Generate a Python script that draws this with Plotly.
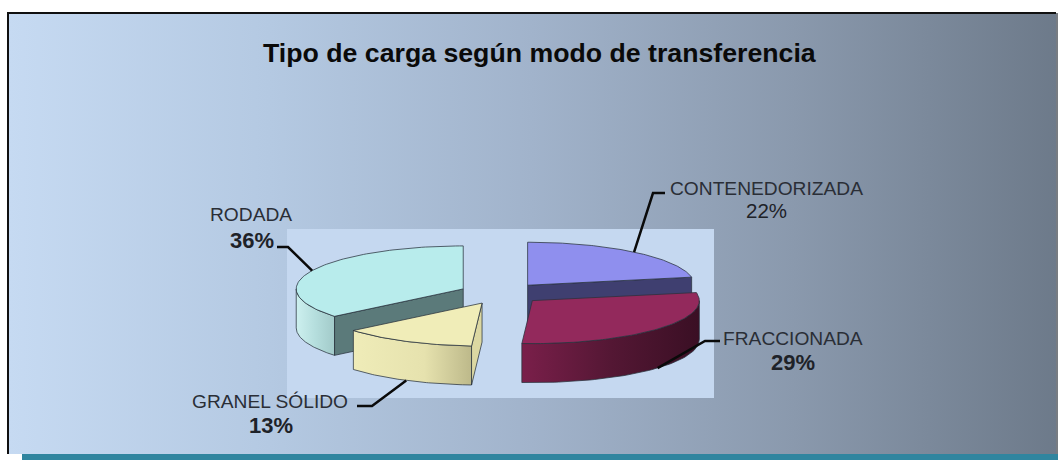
import numpy as np
import plotly.graph_objects as go

# --- data ---
categories = ["CONTENEDORIZADA", "FRACCIONADA", "GRANEL SÓLIDO", "RODADA"]
values = [22, 29, 13, 36]
title_text = "Tipo de carga según modo de transferencia"

# --- style ---
top_colors = ["#8f8fee", "#93295c", "#f0edb8", "#b8ecec"]
wall_colors = ["#3f3f70", "#4a1530", "#dcd8a2", "#5b7a7a"]
side_scales = [
    [[0, "#3f3f70"], [1, "#3f3f70"]],
    [[0, "#7a1f4a"], [0.5, "#541734"], [1, "#3a0f24"]],
    [[0, "#efecb8"], [0.6, "#e6e2ae"], [1, "#bdb98a"]],
    [[0, "#cdf0ef"], [0.5, "#b5dedd"], [1, "#a2cac9"]],
]
CX, CY, RX, RY, DEPTH, EXPLODE = 501, 293.5, 167, 43, 39, 0.25
W, H = 1058, 460
EDGE = "rgba(40,50,60,0.75)"

fig = go.Figure()


def poly(xs, ys, fill=None, scale=None, line=None):
    kw = dict(fill="toself", mode="lines", hoverinfo="skip", showlegend=False,
              line=dict(color=line or "rgba(0,0,0,0)", width=1 if line else 0))
    if scale is not None:
        kw["fillgradient"] = dict(type="horizontal", colorscale=scale)
    else:
        kw["fillcolor"] = fill
    fig.add_trace(go.Scatter(x=list(xs), y=list(ys), **kw))


# panel
poly([8, 1056, 1056, 8, 8], [13, 13, 454, 454, 13],
     scale=[[0, "#c6daf2"], [0.25, "#b4c9e2"], [0.5, "#a1b3cb"],
            [0.75, "#8a99ad"], [1, "#6d7a8a"]])
fig.add_trace(go.Scatter(x=[8, 8, 1056], y=[454, 13, 13], mode="lines", hoverinfo="skip",
                         showlegend=False, line=dict(color="#101010", width=2)))
fig.add_trace(go.Scatter(x=[1057, 1057], y=[13, 454], mode="lines", hoverinfo="skip",
                         showlegend=False, line=dict(color="#4a5058", width=1.5)))
poly([22, W, W, 22, 22], [454, 454, H, H, 454], fill="#30859f")
# plot area
poly([287, 714, 714, 287, 287], [229, 229, 398, 398, 229], fill="#c5d8f0")

# slices
fractions = np.array(values) / sum(values) * 360
ends = np.cumsum(fractions)
starts = ends - fractions
mids = (starts + ends) / 2
centers = [(CX + EXPLODE * RX * np.sin(np.radians(m)),
            CY - EXPLODE * RY * np.cos(np.radians(m))) for m in mids]


def rim(c, t):
    t = np.radians(t)
    return c[0] + RX * np.sin(t), c[1] - RY * np.cos(t)


def draw(i):
    c, s, e = centers[i], starts[i], ends[i]
    # outer side
    a, b = max(s, 90), min(e, 270)
    if b > a:
        th = np.linspace(a, b, 60)
        x, y = rim(c, th)
        poly(np.r_[x, x[::-1], x[0]], np.r_[y, (y + DEPTH)[::-1], y[0]],
             scale=side_scales[i], line=EDGE)
    # cut walls that face the viewer
    for t, facing in ((e, e < 180), (s, 180 < s < 360)):
        if facing:
            x, y = rim(c, t)
            poly([c[0], x, x, c[0], c[0]], [c[1], y, y + DEPTH, c[1] + DEPTH, c[1]],
                 fill=wall_colors[i], line=EDGE)
    # top
    th = np.linspace(s, e, 100)
    x, y = rim(c, th)
    poly(np.r_[c[0], x, c[0]], np.r_[c[1], y, c[1]], fill=top_colors[i], line=EDGE)


for i in (0, 3, 1, 2):
    draw(i)

# leader lines: slice anchor -> elbow -> label end
elbows = [((653, 193), (665, 193)), ((705, 341), (720, 341)),
          ((372, 406), (357, 406)), ((288, 247), (277, 247))]
for i, (el, tail) in enumerate(elbows):
    ax, ay = rim(centers[i], mids[i])
    if 90 < mids[i] < 270:
        ay += DEPTH
    fig.add_trace(go.Scatter(x=[ax, el[0], tail[0]], y=[ay, el[1], tail[1]], mode="lines",
                             hoverinfo="skip", showlegend=False,
                             line=dict(color="#0a0a0a", width=2.5)))

# texts
FONT = "Liberation Sans, Arial, sans-serif"
pct = [f"{v}%" for v in values]
name_pos = [(766.5, 188), (793, 338), (270, 401), (251, 214)]
pct_pos = [(766.5, 210), (793, 362), (271, 425), (251.5, 240)]
pct_bold = [False, True, True, True]
ann = [dict(x=539.5, y=53, text=f"<b>{title_text}</b>", showarrow=False,
            font=dict(family=FONT, size=26.7, color="#0a0a0a"))]
for i, name in enumerate(categories):
    ann.append(dict(x=name_pos[i][0], y=name_pos[i][1], text=name, showarrow=False,
                    font=dict(family=FONT, size=19.2, color="#2a2e36")))
    t = f"<b>{pct[i]}</b>" if pct_bold[i] else pct[i]
    ann.append(dict(x=pct_pos[i][0], y=pct_pos[i][1], text=t, showarrow=False,
                    font=dict(family=FONT, size=22 if pct_bold[i] else 20.5, color="#1e2228")))

fig.update_layout(
    width=W, height=H, margin=dict(l=0, r=0, t=0, b=0),
    paper_bgcolor="white", plot_bgcolor="white", showlegend=False, annotations=ann,
    xaxis=dict(range=[0, W], visible=False, fixedrange=True),
    yaxis=dict(range=[H, 0], visible=False, fixedrange=True),
)
fig.write_html("out.html", config=dict(displayModeBar=False),
               post_script="document.body.style.margin='0';document.body.style.overflow='hidden';")
